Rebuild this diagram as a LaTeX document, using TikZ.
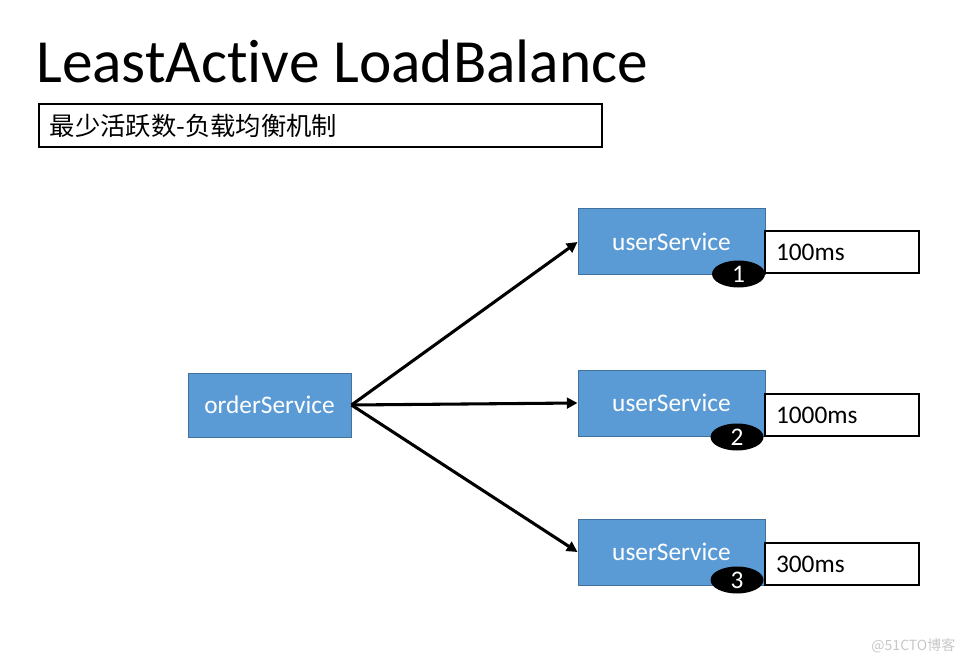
\documentclass[tikz,border=0pt]{standalone}
\usepackage{fontspec}
\setmainfont{Carlito}[Ligatures=NoCommon]
\newfontfamily\cjk{Noto Sans CJK SC}
\usepackage{xcolor}
\usepackage{tikz}
\usetikzlibrary{positioning, arrows.meta, shapes.geometric, calc}
\definecolor{svcblue}{HTML}{5B9BD5}
\definecolor{svcedge}{HTML}{41719C}

\begin{document}
\begin{tikzpicture}[x=0.75pt, y=-0.75pt,
    svc/.style={rectangle, draw=svcedge, fill=svcblue, line width=0.75pt, text=white, font=\fontsize{19}{22}\selectfont},
    timebox/.style={rectangle, draw, line width=2pt, fill=white, minimum width=115.5pt, minimum height=31.5pt, text width=99pt, inner xsep=8.25pt, align=left, font=\fontsize{19}{22}\selectfont},
    badge/.style={ellipse, fill=black, text=white, minimum width=39.75pt, minimum height=20.25pt, inner sep=0pt, font=\fontsize{19}{20}\selectfont},
    call/.style={line width=2.3pt, -{Triangle[length=8pt, width=8pt]}}]
    \useasboundingbox (0,0) rectangle (968,663);

    \node[anchor=base west, inner sep=0pt, font=\fontsize{46}{50}\selectfont] (title) at (36,83) {LeastActive LoadBalance};
    \node[rectangle, draw, line width=2pt, minimum width=422.25pt, minimum height=32.25pt, text width=406pt, inner xsep=8pt, align=left, font=\cjk\fontsize{19}{22}\selectfont] (sub) at (320.5,125.5) {最少活跃数-负载均衡机制};

    \node[svc, minimum width=122.25pt, minimum height=48pt] (order) at (269.5,405) {orderService};
    \node[svc, minimum width=140.25pt, minimum height=49.5pt] (user1) at (671.5,242) {userService};
    \node[svc, minimum width=140.25pt, minimum height=49.5pt] (user2) at (671.5,403) {userService};
    \node[svc, minimum width=140.25pt, minimum height=49.5pt] (user3) at (671.5,552) {userService};

    \node[timebox] (time1) at (842,252) {100ms};
    \node[timebox] (time2) at (842,415) {1000ms};
    \node[timebox] (time3) at (842,564) {300ms};

    \node[badge] (n1) at (738.5,274) {1};
    \node[badge] (n2) at (737,437) {2};
    \node[badge] (n3) at (737,580) {3};

    \draw[call] (order.east) -- (user1.west);
    \draw[call] (order.east) -- (user2.west);
    \draw[call] (order.east) -- (user3.west);

    \node[anchor=east, text=black!22, font=\cjk\fontsize{10.5}{12}\selectfont] (mark) at (960,646) {@51CTO博客};
\end{tikzpicture}
\end{document}
